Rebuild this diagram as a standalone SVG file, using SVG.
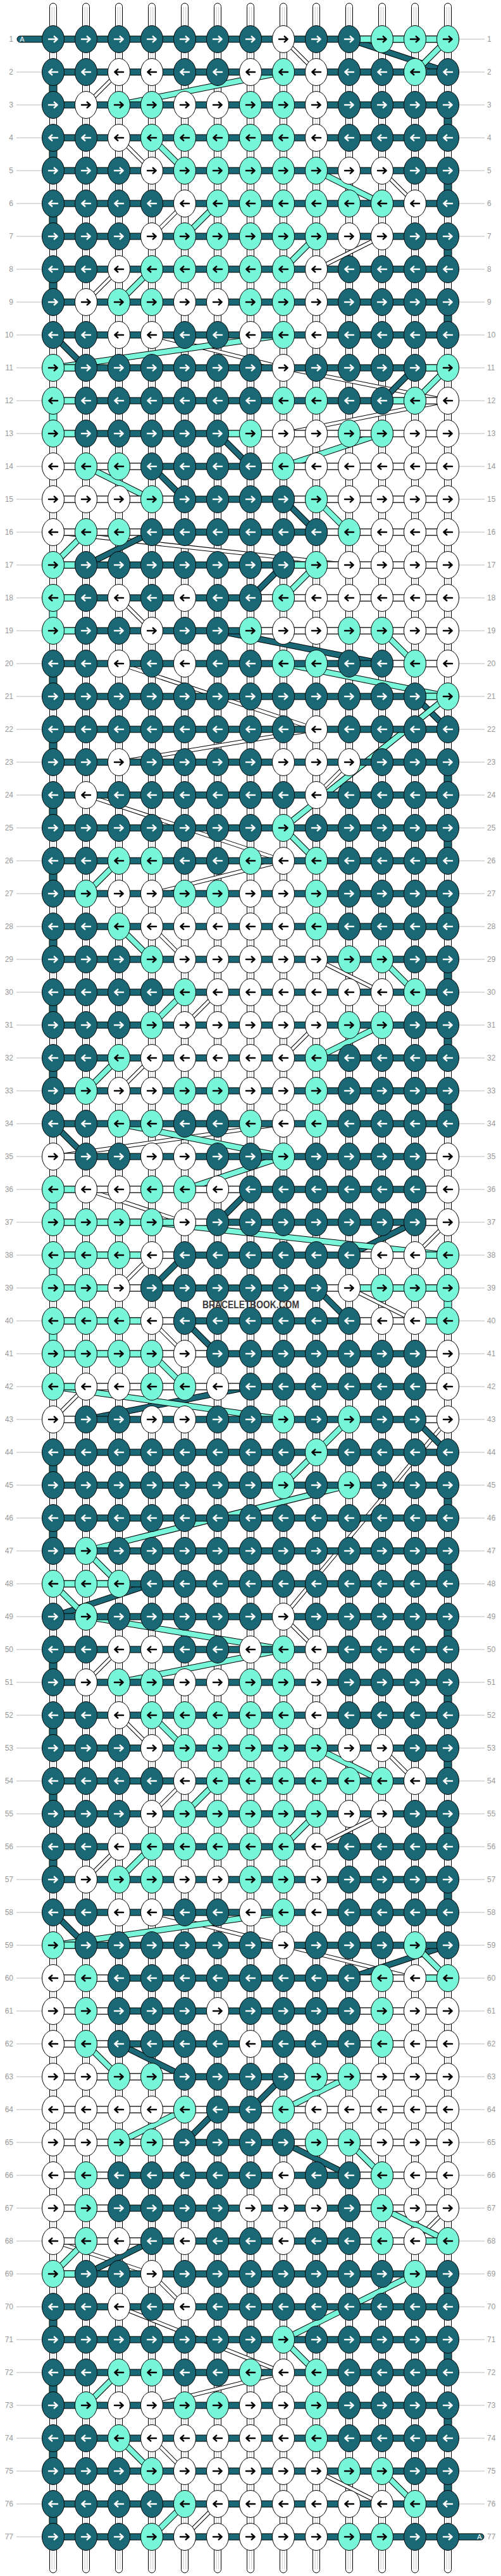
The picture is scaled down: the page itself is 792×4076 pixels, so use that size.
<svg xmlns="http://www.w3.org/2000/svg" width="792" height="4076" viewBox="0 0 792 4076">
<style>
.lb{font-family:"Liberation Sans",Arial,sans-serif;font-size:12px;fill:#999}
.bt{fill:#1a6876;stroke:#000;stroke-width:1}
.bw{fill:#fff;stroke:#000;stroke-width:1}
.bm{fill:#78f6da;stroke:#000;stroke-width:1}
.gl{fill:none;stroke:#bbb;stroke-width:1}
</style>
<defs>
<path id="ar" d="M-7,0H6M1.8,-4.4L6.6,0L1.8,4.4" fill="none" stroke-width="2.5" stroke-linecap="round" stroke-linejoin="round"/>
<path id="al" d="M7,0H-6M-1.8,-4.4L-6.6,0L-1.8,4.4" fill="none" stroke-width="2.5" stroke-linecap="round" stroke-linejoin="round"/>
<ellipse id="ke" rx="17.5" ry="21.5" stroke="#000" stroke-width="1"/>
<g id="dR"><use href="#ke" fill="#1a6876"/><use href="#ar" stroke="#fff"/></g>
<g id="dL"><use href="#ke" fill="#1a6876"/><use href="#al" stroke="#fff"/></g>
<g id="mR"><use href="#ke" fill="#78f6da"/><use href="#ar" stroke="#000"/></g>
<g id="mL"><use href="#ke" fill="#78f6da"/><use href="#al" stroke="#000"/></g>
<g id="wR"><use href="#ke" fill="#fff"/><use href="#ar" stroke="#000"/></g>
<g id="wL"><use href="#ke" fill="#fff"/><use href="#al" stroke="#000"/></g>
<g id="vs"><rect x="-5.5" y="5" width="11" height="4066" rx="5.5" fill="#fff" stroke="#000"/><path d="M-1.8,11V4065M1.8,11V4065" stroke="#c8c8c8" fill="none"/></g>
<rect id="bar" x="84" y="-5" width="624" height="10"/>
<g id="dT">
<line x1="552" y1="62" x2="708" y2="114"/><line x1="84" y1="530" x2="136" y2="582"/><line x1="656" y1="582" x2="604" y2="634"/><line x1="344" y1="686" x2="396" y2="738"/><line x1="240" y1="738" x2="292" y2="790"/><line x1="448" y1="790" x2="500" y2="842"/><line x1="240" y1="842" x2="136" y2="894"/><line x1="448" y1="894" x2="396" y2="946"/><line x1="344" y1="998" x2="604" y2="1050"/><line x1="656" y1="1102" x2="708" y2="1154"/><line x1="84" y1="1778" x2="136" y2="1830"/><line x1="396" y1="1882" x2="344" y2="1934"/><line x1="656" y1="1934" x2="552" y2="1986"/><line x1="292" y1="1986" x2="240" y2="2038"/><line x1="500" y1="2038" x2="552" y2="2090"/><line x1="292" y1="2090" x2="344" y2="2142"/><line x1="396" y1="2194" x2="136" y2="2246"/><line x1="656" y1="2246" x2="708" y2="2298"/><line x1="240" y1="2506" x2="84" y2="2558"/><line x1="84" y1="3026" x2="136" y2="3078"/><line x1="708" y1="3078" x2="552" y2="3130"/><line x1="188" y1="3234" x2="292" y2="3286"/><line x1="448" y1="3286" x2="396" y2="3338"/><line x1="344" y1="3338" x2="292" y2="3390"/><line x1="448" y1="3390" x2="552" y2="3442"/><line x1="240" y1="3546" x2="136" y2="3598"/>
</g>
<g id="dM">
<line x1="708" y1="62" x2="656" y2="114"/><line x1="448" y1="114" x2="188" y2="166"/><line x1="240" y1="218" x2="292" y2="270"/><line x1="500" y1="270" x2="604" y2="322"/><line x1="344" y1="322" x2="292" y2="374"/><line x1="500" y1="374" x2="448" y2="426"/><line x1="240" y1="426" x2="188" y2="478"/><line x1="448" y1="530" x2="84" y2="582"/><line x1="708" y1="582" x2="656" y2="634"/><line x1="604" y1="686" x2="448" y2="738"/><line x1="136" y1="738" x2="240" y2="790"/><line x1="500" y1="790" x2="552" y2="842"/><line x1="136" y1="842" x2="84" y2="894"/><line x1="500" y1="894" x2="448" y2="946"/><line x1="604" y1="998" x2="656" y2="1050"/><line x1="448" y1="1050" x2="708" y2="1102"/><line x1="708" y1="1102" x2="448" y2="1310"/><line x1="448" y1="1310" x2="500" y2="1362"/><line x1="188" y1="1362" x2="136" y2="1414"/><line x1="188" y1="1466" x2="240" y2="1518"/><line x1="604" y1="1518" x2="656" y2="1570"/><line x1="292" y1="1570" x2="240" y2="1622"/><line x1="604" y1="1622" x2="500" y2="1674"/><line x1="188" y1="1674" x2="136" y2="1726"/><line x1="188" y1="1778" x2="448" y2="1830"/><line x1="448" y1="1830" x2="292" y2="1882"/><line x1="240" y1="1934" x2="708" y2="1986"/><line x1="240" y1="2142" x2="292" y2="2194"/><line x1="84" y1="2194" x2="448" y2="2246"/><line x1="552" y1="2246" x2="500" y2="2298"/><line x1="500" y1="2298" x2="448" y2="2350"/><line x1="552" y1="2350" x2="136" y2="2454"/><line x1="136" y1="2454" x2="188" y2="2506"/><line x1="84" y1="2506" x2="136" y2="2558"/><line x1="136" y1="2558" x2="448" y2="2610"/><line x1="448" y1="2610" x2="188" y2="2662"/><line x1="240" y1="2714" x2="292" y2="2766"/><line x1="500" y1="2766" x2="604" y2="2818"/><line x1="344" y1="2818" x2="292" y2="2870"/><line x1="500" y1="2870" x2="448" y2="2922"/><line x1="240" y1="2922" x2="188" y2="2974"/><line x1="448" y1="3026" x2="84" y2="3078"/><line x1="656" y1="3078" x2="708" y2="3130"/><line x1="136" y1="3234" x2="188" y2="3286"/><line x1="552" y1="3286" x2="448" y2="3338"/><line x1="292" y1="3338" x2="188" y2="3390"/><line x1="552" y1="3390" x2="604" y2="3442"/><line x1="604" y1="3494" x2="708" y2="3546"/><line x1="136" y1="3546" x2="84" y2="3598"/><line x1="656" y1="3598" x2="448" y2="3702"/><line x1="448" y1="3702" x2="500" y2="3754"/><line x1="188" y1="3754" x2="136" y2="3806"/><line x1="188" y1="3858" x2="240" y2="3910"/><line x1="604" y1="3910" x2="656" y2="3962"/><line x1="292" y1="3962" x2="240" y2="4014"/>
</g>
<g id="dW">
<line x1="448" y1="62" x2="500" y2="114"/><line x1="188" y1="114" x2="136" y2="166"/><line x1="188" y1="218" x2="240" y2="270"/><line x1="604" y1="270" x2="656" y2="322"/><line x1="292" y1="322" x2="240" y2="374"/><line x1="604" y1="374" x2="500" y2="426"/><line x1="188" y1="426" x2="136" y2="478"/><line x1="240" y1="530" x2="448" y2="582"/><line x1="448" y1="582" x2="708" y2="634"/><line x1="708" y1="634" x2="448" y2="686"/><line x1="84" y1="842" x2="552" y2="894"/><line x1="188" y1="946" x2="240" y2="998"/><line x1="188" y1="1050" x2="500" y2="1154"/><line x1="500" y1="1154" x2="188" y2="1206"/><line x1="552" y1="1206" x2="500" y2="1258"/><line x1="136" y1="1258" x2="448" y2="1362"/><line x1="448" y1="1362" x2="240" y2="1414"/><line x1="240" y1="1466" x2="292" y2="1518"/><line x1="500" y1="1518" x2="604" y2="1570"/><line x1="344" y1="1570" x2="292" y2="1622"/><line x1="500" y1="1622" x2="448" y2="1674"/><line x1="240" y1="1674" x2="188" y2="1726"/><line x1="448" y1="1778" x2="84" y2="1830"/><line x1="136" y1="1882" x2="292" y2="1934"/><line x1="708" y1="1934" x2="656" y2="1986"/><line x1="240" y1="1986" x2="188" y2="2038"/><line x1="552" y1="2038" x2="656" y2="2090"/><line x1="240" y1="2090" x2="292" y2="2142"/><line x1="136" y1="2194" x2="84" y2="2246"/><line x1="708" y1="2246" x2="448" y2="2558"/><line x1="448" y1="2558" x2="500" y2="2610"/><line x1="188" y1="2610" x2="136" y2="2662"/><line x1="188" y1="2714" x2="240" y2="2766"/><line x1="604" y1="2766" x2="656" y2="2818"/><line x1="292" y1="2818" x2="240" y2="2870"/><line x1="604" y1="2870" x2="500" y2="2922"/><line x1="188" y1="2922" x2="136" y2="2974"/><line x1="240" y1="3026" x2="448" y2="3078"/><line x1="448" y1="3078" x2="656" y2="3130"/><line x1="708" y1="3494" x2="656" y2="3546"/><line x1="84" y1="3546" x2="240" y2="3598"/><line x1="240" y1="3598" x2="292" y2="3650"/><line x1="188" y1="3650" x2="448" y2="3754"/><line x1="448" y1="3754" x2="240" y2="3806"/><line x1="240" y1="3858" x2="292" y2="3910"/><line x1="500" y1="3910" x2="604" y2="3962"/><line x1="344" y1="3962" x2="292" y2="4014"/>
</g>
</defs>
<rect width="792" height="4076" fill="#fff"/>
<g id="labels">
<path class="gl" d="M26,114H66M26,166H66M26,218H66M26,270H66M26,322H66M26,374H66M26,426H66M26,478H66M26,530H66M26,582H66M26,634H66M26,686H66M26,738H66M26,790H66M26,842H66M26,894H66M26,946H66M26,998H66M26,1050H66M26,1102H66M26,1154H66M26,1206H66M26,1258H66M26,1310H66M26,1362H66M26,1414H66M26,1466H66M26,1518H66M26,1570H66M26,1622H66M26,1674H66M26,1726H66M26,1778H66M26,1830H66M26,1882H66M26,1934H66M26,1986H66M26,2038H66M26,2090H66M26,2142H66M26,2194H66M26,2246H66M26,2298H66M26,2350H66M26,2402H66M26,2454H66M26,2506H66M26,2558H66M26,2610H66M26,2662H66M26,2714H66M26,2766H66M26,2818H66M26,2870H66M26,2922H66M26,2974H66M26,3026H66M26,3078H66M26,3130H66M26,3182H66M26,3234H66M26,3286H66M26,3338H66M26,3390H66M26,3442H66M26,3494H66M26,3546H66M26,3598H66M26,3650H66M26,3702H66M26,3754H66M26,3806H66M26,3858H66M26,3910H66M26,3962H66M26,4014H66"/>
<path class="gl" d="M725,62H766M725,114H766M725,166H766M725,218H766M725,270H766M725,322H766M725,374H766M725,426H766M725,478H766M725,530H766M725,582H766M725,634H766M725,686H766M725,738H766M725,790H766M725,842H766M725,894H766M725,946H766M725,998H766M725,1050H766M725,1102H766M725,1154H766M725,1206H766M725,1258H766M725,1310H766M725,1362H766M725,1414H766M725,1466H766M725,1518H766M725,1570H766M725,1622H766M725,1674H766M725,1726H766M725,1778H766M725,1830H766M725,1882H766M725,1934H766M725,1986H766M725,2038H766M725,2090H766M725,2142H766M725,2194H766M725,2246H766M725,2298H766M725,2350H766M725,2402H766M725,2454H766M725,2506H766M725,2558H766M725,2610H766M725,2662H766M725,2714H766M725,2766H766M725,2818H766M725,2870H766M725,2922H766M725,2974H766M725,3026H766M725,3078H766M725,3130H766M725,3182H766M725,3234H766M725,3286H766M725,3338H766M725,3390H766M725,3442H766M725,3494H766M725,3546H766M725,3598H766M725,3650H766M725,3702H766M725,3754H766M725,3806H766M725,3858H766M725,3910H766M725,3962H766"/>
<g class="lb" text-anchor="end">
<text x="21" y="66">1</text><text x="21" y="118">2</text><text x="21" y="170">3</text><text x="21" y="222">4</text><text x="21" y="274">5</text><text x="21" y="326">6</text><text x="21" y="378">7</text><text x="21" y="430">8</text><text x="21" y="482">9</text><text x="21" y="534">10</text><text x="21" y="586">11</text><text x="21" y="638">12</text><text x="21" y="690">13</text><text x="21" y="742">14</text><text x="21" y="794">15</text><text x="21" y="846">16</text><text x="21" y="898">17</text><text x="21" y="950">18</text><text x="21" y="1002">19</text><text x="21" y="1054">20</text><text x="21" y="1106">21</text><text x="21" y="1158">22</text><text x="21" y="1210">23</text><text x="21" y="1262">24</text><text x="21" y="1314">25</text><text x="21" y="1366">26</text><text x="21" y="1418">27</text><text x="21" y="1470">28</text><text x="21" y="1522">29</text><text x="21" y="1574">30</text><text x="21" y="1626">31</text><text x="21" y="1678">32</text><text x="21" y="1730">33</text><text x="21" y="1782">34</text><text x="21" y="1834">35</text><text x="21" y="1886">36</text><text x="21" y="1938">37</text><text x="21" y="1990">38</text><text x="21" y="2042">39</text><text x="21" y="2094">40</text><text x="21" y="2146">41</text><text x="21" y="2198">42</text><text x="21" y="2250">43</text><text x="21" y="2302">44</text><text x="21" y="2354">45</text><text x="21" y="2406">46</text><text x="21" y="2458">47</text><text x="21" y="2510">48</text><text x="21" y="2562">49</text><text x="21" y="2614">50</text><text x="21" y="2666">51</text><text x="21" y="2718">52</text><text x="21" y="2770">53</text><text x="21" y="2822">54</text><text x="21" y="2874">55</text><text x="21" y="2926">56</text><text x="21" y="2978">57</text><text x="21" y="3030">58</text><text x="21" y="3082">59</text><text x="21" y="3134">60</text><text x="21" y="3186">61</text><text x="21" y="3238">62</text><text x="21" y="3290">63</text><text x="21" y="3342">64</text><text x="21" y="3394">65</text><text x="21" y="3446">66</text><text x="21" y="3498">67</text><text x="21" y="3550">68</text><text x="21" y="3602">69</text><text x="21" y="3654">70</text><text x="21" y="3706">71</text><text x="21" y="3758">72</text><text x="21" y="3810">73</text><text x="21" y="3862">74</text><text x="21" y="3914">75</text><text x="21" y="3966">76</text><text x="21" y="4018">77</text>
</g>
<g class="lb">
<text x="770" y="66">1</text><text x="770" y="118">2</text><text x="770" y="170">3</text><text x="770" y="222">4</text><text x="770" y="274">5</text><text x="770" y="326">6</text><text x="770" y="378">7</text><text x="770" y="430">8</text><text x="770" y="482">9</text><text x="770" y="534">10</text><text x="770" y="586">11</text><text x="770" y="638">12</text><text x="770" y="690">13</text><text x="770" y="742">14</text><text x="770" y="794">15</text><text x="770" y="846">16</text><text x="770" y="898">17</text><text x="770" y="950">18</text><text x="770" y="1002">19</text><text x="770" y="1054">20</text><text x="770" y="1106">21</text><text x="770" y="1158">22</text><text x="770" y="1210">23</text><text x="770" y="1262">24</text><text x="770" y="1314">25</text><text x="770" y="1366">26</text><text x="770" y="1418">27</text><text x="770" y="1470">28</text><text x="770" y="1522">29</text><text x="770" y="1574">30</text><text x="770" y="1626">31</text><text x="770" y="1678">32</text><text x="770" y="1730">33</text><text x="770" y="1782">34</text><text x="770" y="1834">35</text><text x="770" y="1886">36</text><text x="770" y="1938">37</text><text x="770" y="1990">38</text><text x="770" y="2042">39</text><text x="770" y="2094">40</text><text x="770" y="2146">41</text><text x="770" y="2198">42</text><text x="770" y="2250">43</text><text x="770" y="2302">44</text><text x="770" y="2354">45</text><text x="770" y="2406">46</text><text x="770" y="2458">47</text><text x="770" y="2510">48</text><text x="770" y="2562">49</text><text x="770" y="2614">50</text><text x="770" y="2666">51</text><text x="770" y="2718">52</text><text x="770" y="2770">53</text><text x="770" y="2822">54</text><text x="770" y="2874">55</text><text x="770" y="2926">56</text><text x="770" y="2978">57</text><text x="770" y="3030">58</text><text x="770" y="3082">59</text><text x="770" y="3134">60</text><text x="770" y="3186">61</text><text x="770" y="3238">62</text><text x="770" y="3290">63</text><text x="770" y="3342">64</text><text x="770" y="3394">65</text><text x="770" y="3446">66</text><text x="770" y="3498">67</text><text x="770" y="3550">68</text><text x="770" y="3602">69</text><text x="770" y="3654">70</text><text x="770" y="3706">71</text><text x="770" y="3758">72</text><text x="770" y="3810">73</text><text x="770" y="3862">74</text><text x="770" y="3914">75</text><text x="770" y="3966">76</text><text x="770" y="4018">77</text>
</g>
</g>
<g id="strands">
<g id="vertical"><use href="#vs" x="84"/><use href="#vs" x="136"/><use href="#vs" x="188"/><use href="#vs" x="240"/><use href="#vs" x="292"/><use href="#vs" x="344"/><use href="#vs" x="396"/><use href="#vs" x="448"/><use href="#vs" x="500"/><use href="#vs" x="552"/><use href="#vs" x="604"/><use href="#vs" x="656"/><use href="#vs" x="708"/></g>
<g id="edges">
<g class="bt"><rect x="702" y="184" width="12" height="16"/><rect x="702" y="288" width="12" height="16"/><rect x="702" y="392" width="12" height="16"/><rect x="702" y="496" width="12" height="16"/><rect x="702" y="1224" width="12" height="16"/><rect x="702" y="1328" width="12" height="16"/><rect x="702" y="1432" width="12" height="16"/><rect x="702" y="1536" width="12" height="16"/><rect x="702" y="1640" width="12" height="16"/><rect x="702" y="1744" width="12" height="16"/><rect x="702" y="2368" width="12" height="16"/><rect x="702" y="2472" width="12" height="16"/><rect x="702" y="2576" width="12" height="16"/><rect x="702" y="2680" width="12" height="16"/><rect x="702" y="2784" width="12" height="16"/><rect x="702" y="2888" width="12" height="16"/><rect x="702" y="2992" width="12" height="16"/><rect x="702" y="3616" width="12" height="16"/><rect x="702" y="3720" width="12" height="16"/><rect x="702" y="3824" width="12" height="16"/><rect x="702" y="3928" width="12" height="16"/>
<rect x="78" y="132" width="12" height="16"/><rect x="78" y="236" width="12" height="16"/><rect x="78" y="340" width="12" height="16"/><rect x="78" y="444" width="12" height="16"/><rect x="78" y="1068" width="12" height="16"/><rect x="78" y="1172" width="12" height="16"/><rect x="78" y="1276" width="12" height="16"/><rect x="78" y="1380" width="12" height="16"/><rect x="78" y="1484" width="12" height="16"/><rect x="78" y="1588" width="12" height="16"/><rect x="78" y="1692" width="12" height="16"/><rect x="78" y="2316" width="12" height="16"/><rect x="78" y="2420" width="12" height="16"/><rect x="78" y="2628" width="12" height="16"/><rect x="78" y="2732" width="12" height="16"/><rect x="78" y="2836" width="12" height="16"/><rect x="78" y="2940" width="12" height="16"/><rect x="78" y="3668" width="12" height="16"/><rect x="78" y="3772" width="12" height="16"/><rect x="78" y="3876" width="12" height="16"/><rect x="78" y="3980" width="12" height="16"/></g>
<g class="bm"><rect x="702" y="2056" width="12" height="16"/><rect x="78" y="652" width="12" height="16"/><rect x="78" y="964" width="12" height="16"/><rect x="78" y="1900" width="12" height="16"/><rect x="78" y="2004" width="12" height="16"/><rect x="78" y="2108" width="12" height="16"/></g>
</g>
<g id="diagonals" fill="none">
<use href="#dW" stroke="#000" stroke-width="6.5"/><use href="#dW" stroke="#fff" stroke-width="4.5"/>
<use href="#dT" stroke="#000" stroke-width="10"/><use href="#dT" stroke="#1a6876" stroke-width="8"/>
<use href="#dM" stroke="#000" stroke-width="10"/><use href="#dM" stroke="#78f6da" stroke-width="8"/>
</g>
<g id="bars">
<g class="bt"><use href="#bar" y="62"/><use href="#bar" y="114"/><use href="#bar" y="166"/><use href="#bar" y="218"/><use href="#bar" y="270"/><use href="#bar" y="322"/><use href="#bar" y="374"/><use href="#bar" y="426"/><use href="#bar" y="478"/><use href="#bar" y="530"/><use href="#bar" y="582"/><use href="#bar" y="634"/><use href="#bar" y="686"/><use href="#bar" y="738"/><use href="#bar" y="790"/><use href="#bar" y="842"/><use href="#bar" y="894"/><use href="#bar" y="946"/><use href="#bar" y="998"/><use href="#bar" y="1050"/><use href="#bar" y="1102"/><use href="#bar" y="1154"/><use href="#bar" y="1206"/><use href="#bar" y="1258"/><use href="#bar" y="1310"/><use href="#bar" y="1362"/><use href="#bar" y="1414"/><use href="#bar" y="1466"/><use href="#bar" y="1518"/><use href="#bar" y="1570"/><use href="#bar" y="1622"/><use href="#bar" y="1674"/><use href="#bar" y="1726"/><use href="#bar" y="1778"/><use href="#bar" y="1830"/><use href="#bar" y="1882"/><use href="#bar" y="1934"/><use href="#bar" y="1986"/><use href="#bar" y="2038"/><use href="#bar" y="2090"/><use href="#bar" y="2142"/><use href="#bar" y="2194"/><use href="#bar" y="2246"/><use href="#bar" y="2298"/><use href="#bar" y="2350"/><use href="#bar" y="2402"/><use href="#bar" y="2454"/><use href="#bar" y="2506"/><use href="#bar" y="2558"/><use href="#bar" y="2610"/><use href="#bar" y="2662"/><use href="#bar" y="2714"/><use href="#bar" y="2766"/><use href="#bar" y="2818"/><use href="#bar" y="2870"/><use href="#bar" y="2922"/><use href="#bar" y="2974"/><use href="#bar" y="3026"/><use href="#bar" y="3078"/><use href="#bar" y="3130"/><use href="#bar" y="3182"/><use href="#bar" y="3234"/><use href="#bar" y="3286"/><use href="#bar" y="3338"/><use href="#bar" y="3390"/><use href="#bar" y="3442"/><use href="#bar" y="3494"/><use href="#bar" y="3546"/><use href="#bar" y="3598"/><use href="#bar" y="3650"/><use href="#bar" y="3702"/><use href="#bar" y="3754"/><use href="#bar" y="3806"/><use href="#bar" y="3858"/><use href="#bar" y="3910"/><use href="#bar" y="3962"/><use href="#bar" y="4014"/>
<rect x="27" y="57" width="62" height="10" rx="5"/><rect x="703" y="4009" width="62" height="10" rx="5"/></g>
<g class="bm">
<rect x="552" y="57" width="156" height="10"/>
<rect x="84" y="577" width="52" height="10"/><rect x="656" y="577" width="52" height="10"/>
<rect x="84" y="629" width="52" height="10"/><rect x="604" y="629" width="52" height="10"/>
<rect x="84" y="681" width="52" height="10"/><rect x="344" y="681" width="52" height="10"/>
<rect x="84" y="889" width="52" height="10"/><rect x="448" y="889" width="52" height="10"/>
<rect x="84" y="941" width="52" height="10"/>
<rect x="84" y="993" width="52" height="10"/>
<rect x="656" y="1097" width="52" height="10"/>
<rect x="84" y="1877" width="52" height="10"/>
<rect x="84" y="1929" width="208" height="10"/>
<rect x="84" y="1981" width="156" height="10"/><rect x="656" y="1981" width="52" height="10"/>
<rect x="84" y="2033" width="104" height="10"/><rect x="552" y="2033" width="156" height="10"/>
<rect x="84" y="2085" width="156" height="10"/><rect x="656" y="2085" width="52" height="10"/>
<rect x="84" y="2137" width="156" height="10"/>
<rect x="84" y="2189" width="52" height="10"/>
<rect x="84" y="2501" width="104" height="10"/>
<rect x="84" y="3073" width="52" height="10"/>
<rect x="656" y="3125" width="52" height="10"/>
<rect x="656" y="3541" width="52" height="10"/>
<rect x="84" y="3593" width="52" height="10"/>
</g>
<g class="bw">
<rect x="656" y="629" width="52" height="10"/>
<rect x="396" y="681" width="312" height="10"/>
<rect x="84" y="733" width="156" height="10"/><rect x="396" y="733" width="312" height="10"/>
<rect x="84" y="785" width="208" height="10"/><rect x="448" y="785" width="260" height="10"/>
<rect x="84" y="837" width="156" height="10"/><rect x="500" y="837" width="208" height="10"/>
<rect x="500" y="889" width="208" height="10"/>
<rect x="396" y="941" width="312" height="10"/>
<rect x="396" y="993" width="312" height="10"/>
<rect x="604" y="1045" width="104" height="10"/>
<rect x="84" y="1825" width="52" height="10"/><rect x="656" y="1825" width="52" height="10"/>
<rect x="136" y="1877" width="260" height="10"/><rect x="656" y="1877" width="52" height="10"/>
<rect x="292" y="1929" width="52" height="10"/><rect x="656" y="1929" width="52" height="10"/>
<rect x="240" y="1981" width="52" height="10"/><rect x="552" y="1981" width="104" height="10"/>
<rect x="188" y="2033" width="52" height="10"/><rect x="500" y="2033" width="52" height="10"/>
<rect x="240" y="2085" width="52" height="10"/><rect x="552" y="2085" width="104" height="10"/>
<rect x="240" y="2137" width="104" height="10"/><rect x="656" y="2137" width="52" height="10"/>
<rect x="136" y="2189" width="260" height="10"/><rect x="656" y="2189" width="52" height="10"/>
<rect x="84" y="2241" width="52" height="10"/><rect x="656" y="2241" width="52" height="10"/>
<rect x="84" y="3125" width="104" height="10"/><rect x="552" y="3125" width="104" height="10"/>
<rect x="84" y="3177" width="104" height="10"/><rect x="552" y="3177" width="156" height="10"/>
<rect x="84" y="3229" width="104" height="10"/><rect x="552" y="3229" width="156" height="10"/>
<rect x="84" y="3281" width="208" height="10"/><rect x="448" y="3281" width="260" height="10"/>
<rect x="84" y="3333" width="260" height="10"/><rect x="396" y="3333" width="312" height="10"/>
<rect x="84" y="3385" width="208" height="10"/><rect x="448" y="3385" width="260" height="10"/>
<rect x="84" y="3437" width="104" height="10"/><rect x="552" y="3437" width="156" height="10"/>
<rect x="84" y="3489" width="104" height="10"/><rect x="552" y="3489" width="156" height="10"/>
<rect x="84" y="3541" width="156" height="10"/><rect x="552" y="3541" width="104" height="10"/>
</g>
</g>
</g>
<g id="knots">
<g id="row1" transform="translate(0 62)"><use href="#dR" x="84"/><use href="#dR" x="136"/><use href="#dR" x="188"/><use href="#dR" x="240"/><use href="#dR" x="292"/><use href="#dR" x="344"/><use href="#dR" x="396"/><use href="#wR" x="448"/><use href="#dR" x="500"/><use href="#dR" x="552"/><use href="#mR" x="604"/><use href="#mR" x="656"/><use href="#mR" x="708"/></g>
<g id="row2" transform="translate(0 114)"><use href="#dL" x="84"/><use href="#dL" x="136"/><use href="#wL" x="188"/><use href="#wL" x="240"/><use href="#dL" x="292"/><use href="#dL" x="344"/><use href="#wL" x="396"/><use href="#mL" x="448"/><use href="#wL" x="500"/><use href="#dL" x="552"/><use href="#dL" x="604"/><use href="#mL" x="656"/><use href="#dL" x="708"/></g>
<g id="row3" transform="translate(0 166)"><use href="#dR" x="84"/><use href="#wR" x="136"/><use href="#mR" x="188"/><use href="#mR" x="240"/><use href="#wR" x="292"/><use href="#wR" x="344"/><use href="#mR" x="396"/><use href="#mR" x="448"/><use href="#wR" x="500"/><use href="#dR" x="552"/><use href="#dR" x="604"/><use href="#dR" x="656"/><use href="#dR" x="708"/></g>
<g id="row4" transform="translate(0 218)"><use href="#dL" x="84"/><use href="#dL" x="136"/><use href="#wL" x="188"/><use href="#mL" x="240"/><use href="#mL" x="292"/><use href="#mL" x="344"/><use href="#mL" x="396"/><use href="#mL" x="448"/><use href="#wL" x="500"/><use href="#dL" x="552"/><use href="#dL" x="604"/><use href="#dL" x="656"/><use href="#dL" x="708"/></g>
<g id="row5" transform="translate(0 270)"><use href="#dR" x="84"/><use href="#dR" x="136"/><use href="#dR" x="188"/><use href="#wR" x="240"/><use href="#mR" x="292"/><use href="#mR" x="344"/><use href="#mR" x="396"/><use href="#mR" x="448"/><use href="#mR" x="500"/><use href="#wR" x="552"/><use href="#wR" x="604"/><use href="#dR" x="656"/><use href="#dR" x="708"/></g>
<g id="row6" transform="translate(0 322)"><use href="#dL" x="84"/><use href="#dL" x="136"/><use href="#dL" x="188"/><use href="#dL" x="240"/><use href="#wL" x="292"/><use href="#mL" x="344"/><use href="#mL" x="396"/><use href="#mL" x="448"/><use href="#mL" x="500"/><use href="#mL" x="552"/><use href="#mL" x="604"/><use href="#wL" x="656"/><use href="#dL" x="708"/></g>
<g id="row7" transform="translate(0 374)"><use href="#dR" x="84"/><use href="#dR" x="136"/><use href="#dR" x="188"/><use href="#wR" x="240"/><use href="#mR" x="292"/><use href="#mR" x="344"/><use href="#mR" x="396"/><use href="#mR" x="448"/><use href="#mR" x="500"/><use href="#wR" x="552"/><use href="#wR" x="604"/><use href="#dR" x="656"/><use href="#dR" x="708"/></g>
<g id="row8" transform="translate(0 426)"><use href="#dL" x="84"/><use href="#dL" x="136"/><use href="#wL" x="188"/><use href="#mL" x="240"/><use href="#mL" x="292"/><use href="#mL" x="344"/><use href="#mL" x="396"/><use href="#mL" x="448"/><use href="#wL" x="500"/><use href="#dL" x="552"/><use href="#dL" x="604"/><use href="#dL" x="656"/><use href="#dL" x="708"/></g>
<g id="row9" transform="translate(0 478)"><use href="#dR" x="84"/><use href="#wR" x="136"/><use href="#mR" x="188"/><use href="#mR" x="240"/><use href="#wR" x="292"/><use href="#wR" x="344"/><use href="#mR" x="396"/><use href="#mR" x="448"/><use href="#wR" x="500"/><use href="#dR" x="552"/><use href="#dR" x="604"/><use href="#dR" x="656"/><use href="#dR" x="708"/></g>
<g id="row10" transform="translate(0 530)"><use href="#dL" x="84"/><use href="#dL" x="136"/><use href="#wL" x="188"/><use href="#wL" x="240"/><use href="#dL" x="292"/><use href="#dL" x="344"/><use href="#wL" x="396"/><use href="#mL" x="448"/><use href="#wL" x="500"/><use href="#dL" x="552"/><use href="#dL" x="604"/><use href="#dL" x="656"/><use href="#dL" x="708"/></g>
<g id="row11" transform="translate(0 582)"><use href="#mR" x="84"/><use href="#dR" x="136"/><use href="#dR" x="188"/><use href="#dR" x="240"/><use href="#dR" x="292"/><use href="#dR" x="344"/><use href="#dR" x="396"/><use href="#wR" x="448"/><use href="#dR" x="500"/><use href="#dR" x="552"/><use href="#dR" x="604"/><use href="#dR" x="656"/><use href="#mR" x="708"/></g>
<g id="row12" transform="translate(0 634)"><use href="#mL" x="84"/><use href="#dL" x="136"/><use href="#dL" x="188"/><use href="#dL" x="240"/><use href="#dL" x="292"/><use href="#dL" x="344"/><use href="#dL" x="396"/><use href="#mL" x="448"/><use href="#mL" x="500"/><use href="#dL" x="552"/><use href="#dL" x="604"/><use href="#mL" x="656"/><use href="#wL" x="708"/></g>
<g id="row13" transform="translate(0 686)"><use href="#mR" x="84"/><use href="#dR" x="136"/><use href="#dR" x="188"/><use href="#dR" x="240"/><use href="#dR" x="292"/><use href="#dR" x="344"/><use href="#mR" x="396"/><use href="#wR" x="448"/><use href="#wR" x="500"/><use href="#mR" x="552"/><use href="#mR" x="604"/><use href="#wR" x="656"/><use href="#wR" x="708"/></g>
<g id="row14" transform="translate(0 738)"><use href="#wL" x="84"/><use href="#mL" x="136"/><use href="#mL" x="188"/><use href="#dL" x="240"/><use href="#dL" x="292"/><use href="#dL" x="344"/><use href="#dL" x="396"/><use href="#mL" x="448"/><use href="#wL" x="500"/><use href="#wL" x="552"/><use href="#wL" x="604"/><use href="#wL" x="656"/><use href="#wL" x="708"/></g>
<g id="row15" transform="translate(0 790)"><use href="#wR" x="84"/><use href="#wR" x="136"/><use href="#wR" x="188"/><use href="#mR" x="240"/><use href="#dR" x="292"/><use href="#dR" x="344"/><use href="#dR" x="396"/><use href="#dR" x="448"/><use href="#mR" x="500"/><use href="#wR" x="552"/><use href="#wR" x="604"/><use href="#wR" x="656"/><use href="#wR" x="708"/></g>
<g id="row16" transform="translate(0 842)"><use href="#wL" x="84"/><use href="#mL" x="136"/><use href="#mL" x="188"/><use href="#dL" x="240"/><use href="#dL" x="292"/><use href="#dL" x="344"/><use href="#dL" x="396"/><use href="#dL" x="448"/><use href="#dL" x="500"/><use href="#mL" x="552"/><use href="#wL" x="604"/><use href="#wL" x="656"/><use href="#wL" x="708"/></g>
<g id="row17" transform="translate(0 894)"><use href="#mR" x="84"/><use href="#dR" x="136"/><use href="#dR" x="188"/><use href="#dR" x="240"/><use href="#dR" x="292"/><use href="#dR" x="344"/><use href="#dR" x="396"/><use href="#dR" x="448"/><use href="#mR" x="500"/><use href="#wR" x="552"/><use href="#wR" x="604"/><use href="#wR" x="656"/><use href="#wR" x="708"/></g>
<g id="row18" transform="translate(0 946)"><use href="#mL" x="84"/><use href="#dL" x="136"/><use href="#wL" x="188"/><use href="#dL" x="240"/><use href="#wL" x="292"/><use href="#dL" x="344"/><use href="#dL" x="396"/><use href="#mL" x="448"/><use href="#wL" x="500"/><use href="#wL" x="552"/><use href="#wL" x="604"/><use href="#wL" x="656"/><use href="#wL" x="708"/></g>
<g id="row19" transform="translate(0 998)"><use href="#mR" x="84"/><use href="#dR" x="136"/><use href="#dR" x="188"/><use href="#wR" x="240"/><use href="#dR" x="292"/><use href="#dR" x="344"/><use href="#mR" x="396"/><use href="#wR" x="448"/><use href="#wR" x="500"/><use href="#mR" x="552"/><use href="#mR" x="604"/><use href="#wR" x="656"/><use href="#wR" x="708"/></g>
<g id="row20" transform="translate(0 1050)"><use href="#dL" x="84"/><use href="#dL" x="136"/><use href="#wL" x="188"/><use href="#dL" x="240"/><use href="#wL" x="292"/><use href="#dL" x="344"/><use href="#dL" x="396"/><use href="#mL" x="448"/><use href="#mL" x="500"/><use href="#dL" x="552"/><use href="#dL" x="604"/><use href="#mL" x="656"/><use href="#wL" x="708"/></g>
<g id="row21" transform="translate(0 1102)"><use href="#dR" x="84"/><use href="#dR" x="136"/><use href="#dR" x="188"/><use href="#dR" x="240"/><use href="#dR" x="292"/><use href="#dR" x="344"/><use href="#dR" x="396"/><use href="#dR" x="448"/><use href="#dR" x="500"/><use href="#dR" x="552"/><use href="#dR" x="604"/><use href="#dR" x="656"/><use href="#mR" x="708"/></g>
<g id="row22" transform="translate(0 1154)"><use href="#dL" x="84"/><use href="#dL" x="136"/><use href="#dL" x="188"/><use href="#dL" x="240"/><use href="#dL" x="292"/><use href="#dL" x="344"/><use href="#dL" x="396"/><use href="#dL" x="448"/><use href="#wL" x="500"/><use href="#dL" x="552"/><use href="#dL" x="604"/><use href="#dL" x="656"/><use href="#dL" x="708"/></g>
<g id="row23" transform="translate(0 1206)"><use href="#dR" x="84"/><use href="#dR" x="136"/><use href="#wR" x="188"/><use href="#dR" x="240"/><use href="#dR" x="292"/><use href="#dR" x="344"/><use href="#dR" x="396"/><use href="#wR" x="448"/><use href="#wR" x="500"/><use href="#wR" x="552"/><use href="#dR" x="604"/><use href="#dR" x="656"/><use href="#dR" x="708"/></g>
<g id="row24" transform="translate(0 1258)"><use href="#dL" x="84"/><use href="#wL" x="136"/><use href="#dL" x="188"/><use href="#dL" x="240"/><use href="#dL" x="292"/><use href="#dL" x="344"/><use href="#dL" x="396"/><use href="#dL" x="448"/><use href="#wL" x="500"/><use href="#dL" x="552"/><use href="#dL" x="604"/><use href="#dL" x="656"/><use href="#dL" x="708"/></g>
<g id="row25" transform="translate(0 1310)"><use href="#dR" x="84"/><use href="#dR" x="136"/><use href="#dR" x="188"/><use href="#dR" x="240"/><use href="#dR" x="292"/><use href="#dR" x="344"/><use href="#dR" x="396"/><use href="#mR" x="448"/><use href="#dR" x="500"/><use href="#dR" x="552"/><use href="#dR" x="604"/><use href="#dR" x="656"/><use href="#dR" x="708"/></g>
<g id="row26" transform="translate(0 1362)"><use href="#dL" x="84"/><use href="#dL" x="136"/><use href="#mL" x="188"/><use href="#mL" x="240"/><use href="#dL" x="292"/><use href="#dL" x="344"/><use href="#mL" x="396"/><use href="#wL" x="448"/><use href="#mL" x="500"/><use href="#dL" x="552"/><use href="#dL" x="604"/><use href="#dL" x="656"/><use href="#dL" x="708"/></g>
<g id="row27" transform="translate(0 1414)"><use href="#dR" x="84"/><use href="#mR" x="136"/><use href="#wR" x="188"/><use href="#wR" x="240"/><use href="#mR" x="292"/><use href="#mR" x="344"/><use href="#wR" x="396"/><use href="#wR" x="448"/><use href="#mR" x="500"/><use href="#dR" x="552"/><use href="#dR" x="604"/><use href="#dR" x="656"/><use href="#dR" x="708"/></g>
<g id="row28" transform="translate(0 1466)"><use href="#dL" x="84"/><use href="#dL" x="136"/><use href="#mL" x="188"/><use href="#wL" x="240"/><use href="#wL" x="292"/><use href="#wL" x="344"/><use href="#wL" x="396"/><use href="#wL" x="448"/><use href="#mL" x="500"/><use href="#dL" x="552"/><use href="#dL" x="604"/><use href="#dL" x="656"/><use href="#dL" x="708"/></g>
<g id="row29" transform="translate(0 1518)"><use href="#dR" x="84"/><use href="#dR" x="136"/><use href="#dR" x="188"/><use href="#mR" x="240"/><use href="#wR" x="292"/><use href="#wR" x="344"/><use href="#wR" x="396"/><use href="#wR" x="448"/><use href="#wR" x="500"/><use href="#mR" x="552"/><use href="#mR" x="604"/><use href="#dR" x="656"/><use href="#dR" x="708"/></g>
<g id="row30" transform="translate(0 1570)"><use href="#dL" x="84"/><use href="#dL" x="136"/><use href="#dL" x="188"/><use href="#dL" x="240"/><use href="#mL" x="292"/><use href="#wL" x="344"/><use href="#wL" x="396"/><use href="#wL" x="448"/><use href="#wL" x="500"/><use href="#wL" x="552"/><use href="#wL" x="604"/><use href="#mL" x="656"/><use href="#dL" x="708"/></g>
<g id="row31" transform="translate(0 1622)"><use href="#dR" x="84"/><use href="#dR" x="136"/><use href="#dR" x="188"/><use href="#mR" x="240"/><use href="#wR" x="292"/><use href="#wR" x="344"/><use href="#wR" x="396"/><use href="#wR" x="448"/><use href="#wR" x="500"/><use href="#mR" x="552"/><use href="#mR" x="604"/><use href="#dR" x="656"/><use href="#dR" x="708"/></g>
<g id="row32" transform="translate(0 1674)"><use href="#dL" x="84"/><use href="#dL" x="136"/><use href="#mL" x="188"/><use href="#wL" x="240"/><use href="#wL" x="292"/><use href="#wL" x="344"/><use href="#wL" x="396"/><use href="#wL" x="448"/><use href="#mL" x="500"/><use href="#dL" x="552"/><use href="#dL" x="604"/><use href="#dL" x="656"/><use href="#dL" x="708"/></g>
<g id="row33" transform="translate(0 1726)"><use href="#dR" x="84"/><use href="#mR" x="136"/><use href="#wR" x="188"/><use href="#wR" x="240"/><use href="#mR" x="292"/><use href="#mR" x="344"/><use href="#wR" x="396"/><use href="#wR" x="448"/><use href="#mR" x="500"/><use href="#dR" x="552"/><use href="#dR" x="604"/><use href="#dR" x="656"/><use href="#dR" x="708"/></g>
<g id="row34" transform="translate(0 1778)"><use href="#dL" x="84"/><use href="#dL" x="136"/><use href="#mL" x="188"/><use href="#mL" x="240"/><use href="#dL" x="292"/><use href="#dL" x="344"/><use href="#mL" x="396"/><use href="#wL" x="448"/><use href="#mL" x="500"/><use href="#dL" x="552"/><use href="#dL" x="604"/><use href="#dL" x="656"/><use href="#dL" x="708"/></g>
<g id="row35" transform="translate(0 1830)"><use href="#wR" x="84"/><use href="#dR" x="136"/><use href="#dR" x="188"/><use href="#wR" x="240"/><use href="#wR" x="292"/><use href="#dR" x="344"/><use href="#dR" x="396"/><use href="#mR" x="448"/><use href="#dR" x="500"/><use href="#dR" x="552"/><use href="#dR" x="604"/><use href="#dR" x="656"/><use href="#wR" x="708"/></g>
<g id="row36" transform="translate(0 1882)"><use href="#mL" x="84"/><use href="#wL" x="136"/><use href="#wL" x="188"/><use href="#mL" x="240"/><use href="#mL" x="292"/><use href="#wL" x="344"/><use href="#dL" x="396"/><use href="#dL" x="448"/><use href="#dL" x="500"/><use href="#dL" x="552"/><use href="#dL" x="604"/><use href="#dL" x="656"/><use href="#wL" x="708"/></g>
<g id="row37" transform="translate(0 1934)"><use href="#mR" x="84"/><use href="#mR" x="136"/><use href="#mR" x="188"/><use href="#mR" x="240"/><use href="#wR" x="292"/><use href="#dR" x="344"/><use href="#dR" x="396"/><use href="#dR" x="448"/><use href="#dR" x="500"/><use href="#dR" x="552"/><use href="#dR" x="604"/><use href="#dR" x="656"/><use href="#wR" x="708"/></g>
<g id="row38" transform="translate(0 1986)"><use href="#mL" x="84"/><use href="#mL" x="136"/><use href="#mL" x="188"/><use href="#wL" x="240"/><use href="#dL" x="292"/><use href="#dL" x="344"/><use href="#dL" x="396"/><use href="#dL" x="448"/><use href="#dL" x="500"/><use href="#dL" x="552"/><use href="#wL" x="604"/><use href="#wL" x="656"/><use href="#mL" x="708"/></g>
<g id="row39" transform="translate(0 2038)"><use href="#mR" x="84"/><use href="#mR" x="136"/><use href="#wR" x="188"/><use href="#dR" x="240"/><use href="#dR" x="292"/><use href="#dR" x="344"/><use href="#dR" x="396"/><use href="#dR" x="448"/><use href="#dR" x="500"/><use href="#wR" x="552"/><use href="#mR" x="604"/><use href="#mR" x="656"/><use href="#mR" x="708"/></g>
<g id="row40" transform="translate(0 2090)"><use href="#mL" x="84"/><use href="#mL" x="136"/><use href="#mL" x="188"/><use href="#wL" x="240"/><use href="#dL" x="292"/><use href="#dL" x="344"/><use href="#dL" x="396"/><use href="#dL" x="448"/><use href="#dL" x="500"/><use href="#dL" x="552"/><use href="#wL" x="604"/><use href="#wL" x="656"/><use href="#mL" x="708"/></g>
<g id="row41" transform="translate(0 2142)"><use href="#mR" x="84"/><use href="#mR" x="136"/><use href="#mR" x="188"/><use href="#mR" x="240"/><use href="#wR" x="292"/><use href="#dR" x="344"/><use href="#dR" x="396"/><use href="#dR" x="448"/><use href="#dR" x="500"/><use href="#dR" x="552"/><use href="#dR" x="604"/><use href="#dR" x="656"/><use href="#wR" x="708"/></g>
<g id="row42" transform="translate(0 2194)"><use href="#mL" x="84"/><use href="#wL" x="136"/><use href="#wL" x="188"/><use href="#mL" x="240"/><use href="#mL" x="292"/><use href="#wL" x="344"/><use href="#dL" x="396"/><use href="#dL" x="448"/><use href="#dL" x="500"/><use href="#dL" x="552"/><use href="#dL" x="604"/><use href="#dL" x="656"/><use href="#wL" x="708"/></g>
<g id="row43" transform="translate(0 2246)"><use href="#wR" x="84"/><use href="#dR" x="136"/><use href="#dR" x="188"/><use href="#wR" x="240"/><use href="#wR" x="292"/><use href="#dR" x="344"/><use href="#dR" x="396"/><use href="#mR" x="448"/><use href="#dR" x="500"/><use href="#mR" x="552"/><use href="#dR" x="604"/><use href="#dR" x="656"/><use href="#wR" x="708"/></g>
<g id="row44" transform="translate(0 2298)"><use href="#dL" x="84"/><use href="#dL" x="136"/><use href="#dL" x="188"/><use href="#dL" x="240"/><use href="#dL" x="292"/><use href="#dL" x="344"/><use href="#dL" x="396"/><use href="#dL" x="448"/><use href="#mL" x="500"/><use href="#dL" x="552"/><use href="#dL" x="604"/><use href="#dL" x="656"/><use href="#dL" x="708"/></g>
<g id="row45" transform="translate(0 2350)"><use href="#dR" x="84"/><use href="#dR" x="136"/><use href="#dR" x="188"/><use href="#dR" x="240"/><use href="#dR" x="292"/><use href="#dR" x="344"/><use href="#dR" x="396"/><use href="#mR" x="448"/><use href="#dR" x="500"/><use href="#mR" x="552"/><use href="#dR" x="604"/><use href="#dR" x="656"/><use href="#dR" x="708"/></g>
<g id="row46" transform="translate(0 2402)"><use href="#dL" x="84"/><use href="#dL" x="136"/><use href="#dL" x="188"/><use href="#dL" x="240"/><use href="#dL" x="292"/><use href="#dL" x="344"/><use href="#dL" x="396"/><use href="#dL" x="448"/><use href="#dL" x="500"/><use href="#dL" x="552"/><use href="#dL" x="604"/><use href="#dL" x="656"/><use href="#dL" x="708"/></g>
<g id="row47" transform="translate(0 2454)"><use href="#dR" x="84"/><use href="#mR" x="136"/><use href="#dR" x="188"/><use href="#dR" x="240"/><use href="#dR" x="292"/><use href="#dR" x="344"/><use href="#dR" x="396"/><use href="#dR" x="448"/><use href="#dR" x="500"/><use href="#dR" x="552"/><use href="#dR" x="604"/><use href="#dR" x="656"/><use href="#dR" x="708"/></g>
<g id="row48" transform="translate(0 2506)"><use href="#mL" x="84"/><use href="#mL" x="136"/><use href="#mL" x="188"/><use href="#dL" x="240"/><use href="#dL" x="292"/><use href="#dL" x="344"/><use href="#dL" x="396"/><use href="#dL" x="448"/><use href="#dL" x="500"/><use href="#dL" x="552"/><use href="#dL" x="604"/><use href="#dL" x="656"/><use href="#dL" x="708"/></g>
<g id="row49" transform="translate(0 2558)"><use href="#dR" x="84"/><use href="#mR" x="136"/><use href="#dR" x="188"/><use href="#dR" x="240"/><use href="#dR" x="292"/><use href="#dR" x="344"/><use href="#dR" x="396"/><use href="#wR" x="448"/><use href="#dR" x="500"/><use href="#dR" x="552"/><use href="#dR" x="604"/><use href="#dR" x="656"/><use href="#dR" x="708"/></g>
<g id="row50" transform="translate(0 2610)"><use href="#dL" x="84"/><use href="#dL" x="136"/><use href="#wL" x="188"/><use href="#wL" x="240"/><use href="#dL" x="292"/><use href="#dL" x="344"/><use href="#wL" x="396"/><use href="#mL" x="448"/><use href="#wL" x="500"/><use href="#dL" x="552"/><use href="#dL" x="604"/><use href="#dL" x="656"/><use href="#dL" x="708"/></g>
<g id="row51" transform="translate(0 2662)"><use href="#dR" x="84"/><use href="#wR" x="136"/><use href="#mR" x="188"/><use href="#mR" x="240"/><use href="#wR" x="292"/><use href="#wR" x="344"/><use href="#mR" x="396"/><use href="#mR" x="448"/><use href="#wR" x="500"/><use href="#dR" x="552"/><use href="#dR" x="604"/><use href="#dR" x="656"/><use href="#dR" x="708"/></g>
<g id="row52" transform="translate(0 2714)"><use href="#dL" x="84"/><use href="#dL" x="136"/><use href="#wL" x="188"/><use href="#mL" x="240"/><use href="#mL" x="292"/><use href="#mL" x="344"/><use href="#mL" x="396"/><use href="#mL" x="448"/><use href="#wL" x="500"/><use href="#dL" x="552"/><use href="#dL" x="604"/><use href="#dL" x="656"/><use href="#dL" x="708"/></g>
<g id="row53" transform="translate(0 2766)"><use href="#dR" x="84"/><use href="#dR" x="136"/><use href="#dR" x="188"/><use href="#wR" x="240"/><use href="#mR" x="292"/><use href="#mR" x="344"/><use href="#mR" x="396"/><use href="#mR" x="448"/><use href="#mR" x="500"/><use href="#wR" x="552"/><use href="#wR" x="604"/><use href="#dR" x="656"/><use href="#dR" x="708"/></g>
<g id="row54" transform="translate(0 2818)"><use href="#dL" x="84"/><use href="#dL" x="136"/><use href="#dL" x="188"/><use href="#dL" x="240"/><use href="#wL" x="292"/><use href="#mL" x="344"/><use href="#mL" x="396"/><use href="#mL" x="448"/><use href="#mL" x="500"/><use href="#mL" x="552"/><use href="#mL" x="604"/><use href="#wL" x="656"/><use href="#dL" x="708"/></g>
<g id="row55" transform="translate(0 2870)"><use href="#dR" x="84"/><use href="#dR" x="136"/><use href="#dR" x="188"/><use href="#wR" x="240"/><use href="#mR" x="292"/><use href="#mR" x="344"/><use href="#mR" x="396"/><use href="#mR" x="448"/><use href="#mR" x="500"/><use href="#wR" x="552"/><use href="#wR" x="604"/><use href="#dR" x="656"/><use href="#dR" x="708"/></g>
<g id="row56" transform="translate(0 2922)"><use href="#dL" x="84"/><use href="#dL" x="136"/><use href="#wL" x="188"/><use href="#mL" x="240"/><use href="#mL" x="292"/><use href="#mL" x="344"/><use href="#mL" x="396"/><use href="#mL" x="448"/><use href="#wL" x="500"/><use href="#dL" x="552"/><use href="#dL" x="604"/><use href="#dL" x="656"/><use href="#dL" x="708"/></g>
<g id="row57" transform="translate(0 2974)"><use href="#dR" x="84"/><use href="#wR" x="136"/><use href="#mR" x="188"/><use href="#mR" x="240"/><use href="#wR" x="292"/><use href="#wR" x="344"/><use href="#mR" x="396"/><use href="#mR" x="448"/><use href="#wR" x="500"/><use href="#dR" x="552"/><use href="#dR" x="604"/><use href="#dR" x="656"/><use href="#dR" x="708"/></g>
<g id="row58" transform="translate(0 3026)"><use href="#dL" x="84"/><use href="#dL" x="136"/><use href="#wL" x="188"/><use href="#wL" x="240"/><use href="#dL" x="292"/><use href="#dL" x="344"/><use href="#wL" x="396"/><use href="#mL" x="448"/><use href="#wL" x="500"/><use href="#dL" x="552"/><use href="#dL" x="604"/><use href="#dL" x="656"/><use href="#dL" x="708"/></g>
<g id="row59" transform="translate(0 3078)"><use href="#mR" x="84"/><use href="#dR" x="136"/><use href="#dR" x="188"/><use href="#dR" x="240"/><use href="#dR" x="292"/><use href="#dR" x="344"/><use href="#dR" x="396"/><use href="#wR" x="448"/><use href="#dR" x="500"/><use href="#dR" x="552"/><use href="#dR" x="604"/><use href="#mR" x="656"/><use href="#dR" x="708"/></g>
<g id="row60" transform="translate(0 3130)"><use href="#wL" x="84"/><use href="#mL" x="136"/><use href="#dL" x="188"/><use href="#dL" x="240"/><use href="#dL" x="292"/><use href="#dL" x="344"/><use href="#dL" x="396"/><use href="#dL" x="448"/><use href="#dL" x="500"/><use href="#dL" x="552"/><use href="#mL" x="604"/><use href="#wL" x="656"/><use href="#mL" x="708"/></g>
<g id="row61" transform="translate(0 3182)"><use href="#wR" x="84"/><use href="#mR" x="136"/><use href="#dR" x="188"/><use href="#dR" x="240"/><use href="#dR" x="292"/><use href="#wR" x="344"/><use href="#dR" x="396"/><use href="#dR" x="448"/><use href="#dR" x="500"/><use href="#dR" x="552"/><use href="#mR" x="604"/><use href="#wR" x="656"/><use href="#wR" x="708"/></g>
<g id="row62" transform="translate(0 3234)"><use href="#wL" x="84"/><use href="#mL" x="136"/><use href="#dL" x="188"/><use href="#dL" x="240"/><use href="#dL" x="292"/><use href="#dL" x="344"/><use href="#wL" x="396"/><use href="#dL" x="448"/><use href="#dL" x="500"/><use href="#dL" x="552"/><use href="#mL" x="604"/><use href="#wL" x="656"/><use href="#wL" x="708"/></g>
<g id="row63" transform="translate(0 3286)"><use href="#wR" x="84"/><use href="#wR" x="136"/><use href="#mR" x="188"/><use href="#mR" x="240"/><use href="#dR" x="292"/><use href="#dR" x="344"/><use href="#dR" x="396"/><use href="#dR" x="448"/><use href="#mR" x="500"/><use href="#mR" x="552"/><use href="#wR" x="604"/><use href="#wR" x="656"/><use href="#wR" x="708"/></g>
<g id="row64" transform="translate(0 3338)"><use href="#wL" x="84"/><use href="#wL" x="136"/><use href="#wL" x="188"/><use href="#wL" x="240"/><use href="#mL" x="292"/><use href="#dL" x="344"/><use href="#dL" x="396"/><use href="#mL" x="448"/><use href="#wL" x="500"/><use href="#wL" x="552"/><use href="#wL" x="604"/><use href="#wL" x="656"/><use href="#wL" x="708"/></g>
<g id="row65" transform="translate(0 3390)"><use href="#wR" x="84"/><use href="#wR" x="136"/><use href="#mR" x="188"/><use href="#mR" x="240"/><use href="#dR" x="292"/><use href="#dR" x="344"/><use href="#dR" x="396"/><use href="#dR" x="448"/><use href="#mR" x="500"/><use href="#mR" x="552"/><use href="#wR" x="604"/><use href="#wR" x="656"/><use href="#wR" x="708"/></g>
<g id="row66" transform="translate(0 3442)"><use href="#wL" x="84"/><use href="#mL" x="136"/><use href="#dL" x="188"/><use href="#dL" x="240"/><use href="#dL" x="292"/><use href="#dL" x="344"/><use href="#dL" x="396"/><use href="#wL" x="448"/><use href="#dL" x="500"/><use href="#dL" x="552"/><use href="#mL" x="604"/><use href="#wL" x="656"/><use href="#wL" x="708"/></g>
<g id="row67" transform="translate(0 3494)"><use href="#wR" x="84"/><use href="#mR" x="136"/><use href="#dR" x="188"/><use href="#dR" x="240"/><use href="#dR" x="292"/><use href="#dR" x="344"/><use href="#wR" x="396"/><use href="#wR" x="448"/><use href="#wR" x="500"/><use href="#dR" x="552"/><use href="#mR" x="604"/><use href="#wR" x="656"/><use href="#wR" x="708"/></g>
<g id="row68" transform="translate(0 3546)"><use href="#wL" x="84"/><use href="#mL" x="136"/><use href="#wL" x="188"/><use href="#dL" x="240"/><use href="#wL" x="292"/><use href="#dL" x="344"/><use href="#dL" x="396"/><use href="#wL" x="448"/><use href="#dL" x="500"/><use href="#dL" x="552"/><use href="#mL" x="604"/><use href="#wL" x="656"/><use href="#mL" x="708"/></g>
<g id="row69" transform="translate(0 3598)"><use href="#mR" x="84"/><use href="#dR" x="136"/><use href="#dR" x="188"/><use href="#wR" x="240"/><use href="#dR" x="292"/><use href="#dR" x="344"/><use href="#dR" x="396"/><use href="#dR" x="448"/><use href="#dR" x="500"/><use href="#dR" x="552"/><use href="#dR" x="604"/><use href="#mR" x="656"/><use href="#dR" x="708"/></g>
<g id="row70" transform="translate(0 3650)"><use href="#dL" x="84"/><use href="#dL" x="136"/><use href="#wL" x="188"/><use href="#dL" x="240"/><use href="#wL" x="292"/><use href="#dL" x="344"/><use href="#dL" x="396"/><use href="#dL" x="448"/><use href="#dL" x="500"/><use href="#dL" x="552"/><use href="#dL" x="604"/><use href="#dL" x="656"/><use href="#dL" x="708"/></g>
<g id="row71" transform="translate(0 3702)"><use href="#dR" x="84"/><use href="#dR" x="136"/><use href="#dR" x="188"/><use href="#dR" x="240"/><use href="#dR" x="292"/><use href="#dR" x="344"/><use href="#dR" x="396"/><use href="#mR" x="448"/><use href="#dR" x="500"/><use href="#dR" x="552"/><use href="#dR" x="604"/><use href="#dR" x="656"/><use href="#dR" x="708"/></g>
<g id="row72" transform="translate(0 3754)"><use href="#dL" x="84"/><use href="#dL" x="136"/><use href="#mL" x="188"/><use href="#mL" x="240"/><use href="#dL" x="292"/><use href="#dL" x="344"/><use href="#mL" x="396"/><use href="#wL" x="448"/><use href="#mL" x="500"/><use href="#dL" x="552"/><use href="#dL" x="604"/><use href="#dL" x="656"/><use href="#dL" x="708"/></g>
<g id="row73" transform="translate(0 3806)"><use href="#dR" x="84"/><use href="#mR" x="136"/><use href="#wR" x="188"/><use href="#wR" x="240"/><use href="#mR" x="292"/><use href="#mR" x="344"/><use href="#wR" x="396"/><use href="#wR" x="448"/><use href="#mR" x="500"/><use href="#dR" x="552"/><use href="#dR" x="604"/><use href="#dR" x="656"/><use href="#dR" x="708"/></g>
<g id="row74" transform="translate(0 3858)"><use href="#dL" x="84"/><use href="#dL" x="136"/><use href="#mL" x="188"/><use href="#wL" x="240"/><use href="#wL" x="292"/><use href="#wL" x="344"/><use href="#wL" x="396"/><use href="#wL" x="448"/><use href="#mL" x="500"/><use href="#dL" x="552"/><use href="#dL" x="604"/><use href="#dL" x="656"/><use href="#dL" x="708"/></g>
<g id="row75" transform="translate(0 3910)"><use href="#dR" x="84"/><use href="#dR" x="136"/><use href="#dR" x="188"/><use href="#mR" x="240"/><use href="#wR" x="292"/><use href="#wR" x="344"/><use href="#wR" x="396"/><use href="#wR" x="448"/><use href="#wR" x="500"/><use href="#mR" x="552"/><use href="#mR" x="604"/><use href="#dR" x="656"/><use href="#dR" x="708"/></g>
<g id="row76" transform="translate(0 3962)"><use href="#dL" x="84"/><use href="#dL" x="136"/><use href="#dL" x="188"/><use href="#dL" x="240"/><use href="#mL" x="292"/><use href="#wL" x="344"/><use href="#wL" x="396"/><use href="#wL" x="448"/><use href="#wL" x="500"/><use href="#wL" x="552"/><use href="#wL" x="604"/><use href="#mL" x="656"/><use href="#dL" x="708"/></g>
<g id="row77" transform="translate(0 4014)"><use href="#dR" x="84"/><use href="#dR" x="136"/><use href="#dR" x="188"/><use href="#mR" x="240"/><use href="#wR" x="292"/><use href="#wR" x="344"/><use href="#wR" x="396"/><use href="#wR" x="448"/><use href="#wR" x="500"/><use href="#mR" x="552"/><use href="#mR" x="604"/><use href="#dR" x="656"/><use href="#dR" x="708"/></g>
</g>
<g id="thread-labels" font-family="Liberation Sans, Arial, sans-serif" font-size="11" fill="#fff" text-anchor="middle">
<text x="35" y="66">A</text><text x="758" y="4018">A</text>
</g>
<text id="watermark" x="320" y="2070" font-family="Liberation Sans, Arial, sans-serif" font-weight="bold" font-size="16" fill="#3a3a3a" textLength="153" lengthAdjust="spacingAndGlyphs">BRACELETBOOK.COM</text>
</svg>
